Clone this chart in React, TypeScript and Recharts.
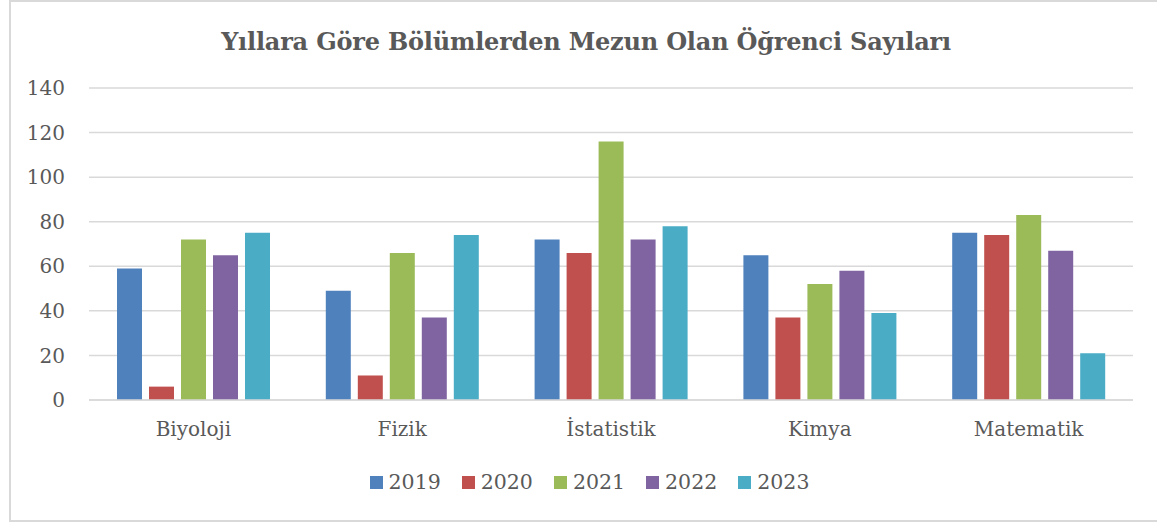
import React from "react";
import { BarChart, Bar, XAxis, YAxis, CartesianGrid } from "recharts";

const categories = ["Biyoloji", "Fizik", "İstatistik", "Kimya", "Matematik"];
const years = ["2019", "2020", "2021", "2022", "2023"];
const v2019 = [59, 49, 72, 65, 75];
const v2020 = [6, 11, 66, 37, 74];
const v2021 = [72, 66, 116, 52, 83];
const v2022 = [65, 37, 72, 58, 67];
const v2023 = [75, 74, 78, 39, 21];
const yTicks = [0, 20, 40, 60, 80, 100, 120, 140];
const colors = ["#4F81BD", "#C0504D", "#9BBB59", "#8064A2", "#4BACC6"];

const seriesValues = [v2019, v2020, v2021, v2022, v2023];
const data = categories.map((c, i) => {
  const row: Record<string, string | number> = { name: c };
  years.forEach((y, k) => {
    row[y] = seriesValues[k][i];
  });
  return row;
});

const FONT = "'DejaVu Serif', serif";

export default function App() {
  return (
    <div style={{ position: "fixed", left: 0, top: 0, width: 1157, height: 522, background: "#fff" }}>
      <div
        style={{
          position: "absolute",
          left: 9,
          top: 0,
          width: 1146,
          height: 518,
          border: "2px solid #d9d9d9",
        }}
      />
      <div
        style={{
          position: "absolute",
          left: 0,
          width: 1172,
          top: 26,
          textAlign: "center",
          fontFamily: FONT,
          fontWeight: "bold",
          fontSize: 24,
          color: "#595959",
          lineHeight: "32px",
          letterSpacing: -0.2,
        }}
      >
        Yıllara Göre Bölümlerden Mezun Olan Öğrenci Sayıları
      </div>
      <div style={{ position: "absolute", left: 0, top: 0 }}>
        <BarChart
          width={1157}
          height={522}
          data={data}
          margin={{ top: 88, right: 24, bottom: 92, left: 0 }}
          barGap={7}
          barSize={25}
        >
          <CartesianGrid vertical={false} stroke="#d9d9d9" strokeWidth={1.5} />
          <XAxis
            dataKey="name"
            height={30}
            axisLine={{ stroke: "#d9d9d9", strokeWidth: 1.5 }}
            tickLine={false}
            tickSize={0}
            tickMargin={22}
            tick={{ fill: "#595959", fontSize: 20, fontFamily: FONT }}
            interval={0}
          />
          <YAxis
            width={89}
            domain={[0, 140]}
            ticks={yTicks}
            axisLine={false}
            tickLine={false}
            tickSize={0}
            tickMargin={24}
            tick={{ fill: "#595959", fontSize: 20, fontFamily: FONT }}
            interval={0}
          />
          {years.map((y, k) => (
            <Bar key={y} dataKey={y} fill={colors[k]} isAnimationActive={false} />
          ))}
        </BarChart>
      </div>
      <div
        style={{
          position: "absolute",
          left: 0,
          width: 1157,
          top: 470,
          display: "flex",
          justifyContent: "center",
          fontFamily: FONT,
          fontSize: 20.5,
          color: "#595959",
          paddingLeft: 22,
          boxSizing: "border-box",
        }}
      >
        {years.map((y, k) => (
          <div key={y} style={{ display: "flex", alignItems: "center", marginRight: k < 4 ? 21 : 0 }}>
            <div style={{ width: 13, height: 13, background: colors[k], marginRight: 6 }} />
            <span style={{ lineHeight: "24px" }}>{y}</span>
          </div>
        ))}
      </div>
    </div>
  );
}
